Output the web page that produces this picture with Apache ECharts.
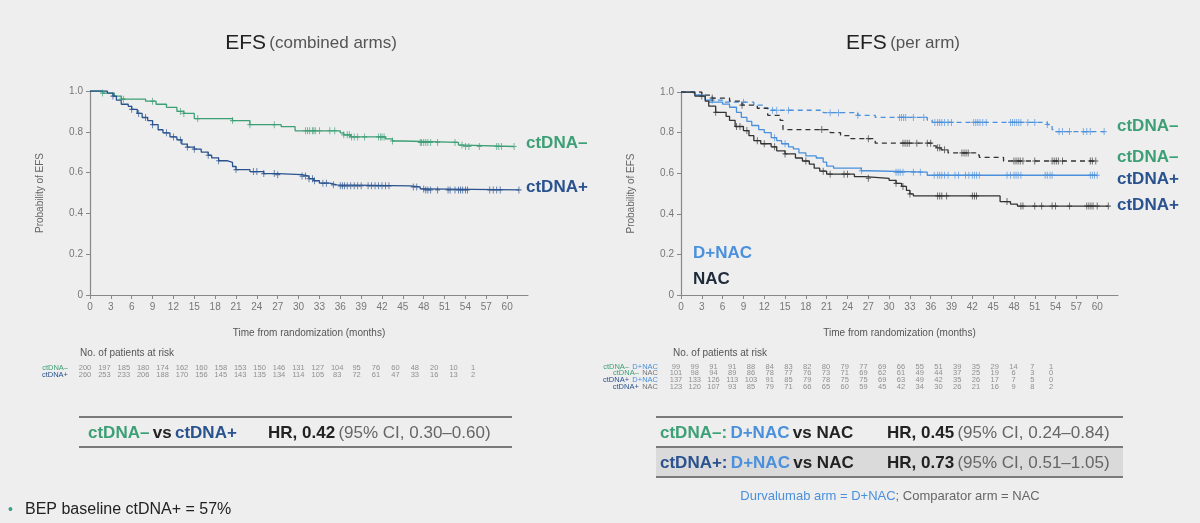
<!DOCTYPE html>
<html>
<head>
<meta charset="utf-8">
<title>EFS by ctDNA</title>
<script src="https://cdn.jsdelivr.net/npm/echarts@6/dist/echarts.min.js"></script>
<style>
html, body { margin: 0; padding: 0; background: #eeeeee; }
#main { width: 1200px; height: 523px; }
</style>
</head>
<body>
<div id="main"></div>
<script>
/**************** 数据 ****************/
var monthTicks = [0, 3, 6, 9, 12, 15, 18, 21, 24, 27, 30, 33, 36, 39, 42, 45, 48, 51, 54, 57, 60];
var probTicks = [0, 0.2, 0.4, 0.6, 0.8, 1.0];
var riskTimes = [0, 3, 6, 9, 12, 15, 18, 21, 24, 27, 30, 33, 36, 39, 42, 45, 48, 51, 54, 57, 60];

// left: combined arms
var negSteps = [[0, 1], [1.8, 0.99], [3.5, 0.975], [4.5, 0.96], [8, 0.95], [9.5, 0.935], [11, 0.92], [12.5, 0.9],
	[13.5, 0.89], [15, 0.865], [20.5, 0.855], [23, 0.835], [27.5, 0.825], [29.5, 0.805], [36, 0.795], [36.5, 0.785],
	[37.5, 0.775], [42.5, 0.765], [43.5, 0.755], [45, 0.748], [53, 0.735], [53.8, 0.728]];
var negEnd = 61;
var negCensor = [1.8, 4.5, 4.8, 9, 13, 13.5, 15.5, 20.5, 23, 26.5, 31, 31.3, 31.6, 32, 32.2, 32.4, 33, 34.5, 35.2,
	36.5, 37, 37.3, 37.6, 38, 38.5, 39.5, 41.5, 41.8, 42, 42.3, 43.5, 47.5, 47.7, 48, 48.3, 48.6, 49, 50, 52.5,
	53.5, 54, 54.5, 56, 58.5, 58.8, 59.2, 61];

var posSteps = [[0, 1], [2.5, 0.99], [3.3, 0.975], [3.8, 0.955], [4.5, 0.935], [5.5, 0.925], [6, 0.91], [6.8, 0.89],
	[7.5, 0.87], [8.3, 0.855], [9, 0.835], [9.8, 0.81], [10.5, 0.795], [11.5, 0.775], [12.5, 0.76], [13.2, 0.74],
	[14, 0.725], [15, 0.715], [16, 0.7], [17, 0.685], [17.5, 0.672], [18.5, 0.658], [19.8, 0.65], [20.5, 0.63],
	[21, 0.615], [23, 0.605], [25, 0.595], [27, 0.59], [30.5, 0.583], [31.5, 0.57], [32.2, 0.56], [33, 0.548],
	[34.5, 0.54], [35.5, 0.535], [46, 0.53], [47.5, 0.52], [48.3, 0.515]];
var posEnd = 61.7;
var posCensor = [3.3, 6, 7, 8, 9, 11, 12, 13, 14, 15, 17, 18.5, 21, 23.5, 24, 25, 26.5, 27, 30.5, 31, 31.5, 32, 32.3,
	33.5, 34, 35, 36, 36.3, 36.6, 37, 37.5, 38, 38.5, 39, 40, 40.5, 41, 41.5, 42, 42.5, 43, 46.5, 47, 48, 48.3,
	48.6, 49, 50, 51.5, 51.8, 52.5, 53, 53.3, 53.6, 54, 54.3, 57.5, 58, 58.5, 59, 61.7];

// right: per arm
var negDSteps = [[0, 1], [1.8, 0.985], [3.5, 0.96], [6, 0.95], [10.5, 0.935], [12, 0.92], [13, 0.91], [20.5, 0.898],
	[25.5, 0.885], [28, 0.875], [35.5, 0.862], [36.2, 0.85], [52.8, 0.84], [53.5, 0.815], [54, 0.805]];
var negDEnd = 61;
var negDCensor = [4.5, 9, 13.2, 13.8, 15.5, 21.5, 22.7, 25.5, 31.5, 31.8, 32.1, 32.4, 33.5, 35, 36.6, 37, 37.3,
	37.6, 38, 38.5, 39, 42.2, 42.5, 42.8, 43.1, 43.5, 44, 47.5, 47.8, 48.1, 48.4, 48.7, 49, 50, 51, 52.8, 54.5,
	55, 56, 58, 58.5, 59, 61];

var negNSteps = [[0, 1], [3, 0.985], [4.5, 0.97], [7, 0.955], [8.8, 0.935], [11, 0.92], [12.5, 0.885], [14.3, 0.86],
	[14.7, 0.815], [21.5, 0.8], [23, 0.785], [24.5, 0.77], [28, 0.748], [36.3, 0.735], [36.8, 0.725], [37.5, 0.715],
	[38.5, 0.7], [42.5, 0.69], [43, 0.678], [46.5, 0.66]];
var negNEnd = 59.8;
var negNCensor = [4.5, 8.8, 20.3, 27, 32, 32.3, 32.6, 32.9, 34, 35.5, 36, 37, 37.3, 38, 40.5, 40.8, 41.1, 41.4, 48,
	48.3, 48.6, 48.9, 49.3, 51, 53.5, 53.8, 54.1, 54.4, 55, 59, 59.3, 59.8];

var posDSteps = [[0, 1], [2, 0.985], [3.5, 0.96], [4, 0.95], [6, 0.94], [7, 0.925], [8, 0.9], [8.7, 0.875],
	[9.5, 0.855], [10.2, 0.835], [11.2, 0.815], [12, 0.8], [13, 0.775], [13.8, 0.76], [14.5, 0.745], [15.5, 0.73],
	[16.2, 0.72], [17, 0.7], [18, 0.685], [19.5, 0.675], [20.5, 0.655], [21, 0.635], [22, 0.625], [26, 0.612],
	[27, 0.605], [35.5, 0.59]];
var posDEnd = 60;
var posDCensor = [13.5, 15, 26, 31, 31.3, 31.6, 32, 33.5, 34.5, 36.5, 37, 37.3, 37.6, 38, 38.5, 39.5, 40, 41, 41.5,
	42, 42.3, 42.6, 43, 47, 47.5, 48, 48.3, 48.6, 49, 52.5, 52.8, 53.2, 53.5, 59, 59.3, 59.6, 60];

var posNSteps = [[0, 1], [2, 0.98], [3.5, 0.955], [4, 0.93], [5, 0.9], [6.5, 0.88], [7, 0.86], [7.8, 0.83], [9, 0.81],
	[9.8, 0.785], [10.5, 0.76], [11.5, 0.745], [13, 0.73], [13.8, 0.71], [15, 0.695], [16.5, 0.675], [17.5, 0.66],
	[18.5, 0.645], [19.2, 0.625], [20, 0.61], [21, 0.595], [25, 0.583], [26.5, 0.575], [30, 0.565], [31, 0.55],
	[31.8, 0.535], [32.5, 0.515], [33, 0.498], [33.5, 0.488], [46, 0.46], [47.5, 0.448], [48.5, 0.438]];
var posNEnd = 61.6;
var posNCensor = [3, 5, 8, 8.5, 9.5, 11, 12, 13.5, 15, 18, 20.5, 21.5, 23.5, 24, 27, 31, 32, 33, 37, 37.3, 37.6,
	38.3, 42, 42.3, 42.6, 47, 49, 49.3, 51, 52, 53.5, 54, 56, 58.5, 58.8, 59.1, 59.4, 60, 61.6];

// 风险人数表
var riskLeftRows = ['ctDNA–', 'ctDNA+'];
var riskLeftNeg = [200, 197, 185, 180, 174, 162, 160, 158, 153, 150, 146, 131, 127, 104, 95, 76, 60, 48, 20, 10, 1];
var riskLeftPos = [260, 253, 233, 206, 188, 170, 156, 145, 143, 135, 134, 114, 105, 83, 72, 61, 47, 33, 16, 13, 2];

var riskRightRows = ['ctDNA– D+NAC', 'ctDNA– NAC', 'ctDNA+ D+NAC', 'ctDNA+ NAC'];
var riskNegD = [99, 99, 91, 91, 88, 84, 83, 82, 80, 79, 77, 69, 66, 55, 51, 39, 35, 29, 14, 7, 1];
var riskNegN = [101, 98, 94, 89, 86, 78, 77, 76, 73, 71, 69, 62, 61, 49, 44, 37, 25, 19, 6, 3, 0];
var riskPosD = [137, 133, 126, 113, 103, 91, 85, 79, 78, 75, 75, 69, 63, 49, 42, 35, 26, 17, 7, 5, 0];
var riskPosN = [123, 120, 107, 93, 85, 79, 71, 66, 65, 60, 59, 45, 42, 34, 30, 26, 21, 16, 9, 8, 2];

/**************** 样式 ****************/
var FONT = '"Liberation Sans", Arial, sans-serif';
var GREEN = '#3d9f76';
var DBLUE = '#2a528e';
var LBLUE = '#4a90dc';
var DARK = '#333333';
var CROSS = 'path://M4,0L4,8M0,4L8,4';

function survAt(steps, t) {
	var s = 1;
	for (var i = 0; i < steps.length; i++) {
		if (steps[i][0] <= t) s = steps[i][1];
	}
	return s;
}

function kmLine(steps, end, color, dashed, xi) {
	return {
		type: 'line', step: 'end', xAxisIndex: xi, yAxisIndex: xi,
		showSymbol: false, silent: true,
		data: steps.concat([[end, steps[steps.length - 1][1]]]),
		lineStyle: { color: color, width: 1.3, type: dashed ? [5, 4] : 'solid' },
		z: 3
	};
}

function kmCensor(steps, times, color, xi) {
	return {
		type: 'scatter', xAxisIndex: xi, yAxisIndex: xi, silent: true,
		symbol: CROSS, symbolSize: [5, 7],
		itemStyle: { color: 'none', borderColor: color, borderWidth: 1 },
		data: times.map(function (t) { return [t, survAt(steps, t)]; }),
		z: 4
	};
}

function riskSeries(values, row, xi) {
	return {
		type: 'scatter', xAxisIndex: xi, yAxisIndex: xi, silent: true,
		symbolSize: 1, itemStyle: { color: 'transparent' },
		label: {
			show: true, position: 'inside', fontSize: 7.5, fontFamily: FONT, color: '#777',
			formatter: function (p) { return p.value[2]; }
		},
		data: values.map(function (v, i) { return [riskTimes[i], row, v]; })
	};
}

function kmXAxis(gi) {
	return {
		type: 'value', gridIndex: gi, min: 0, max: 63,
		name: 'Time from randomization (months)', nameLocation: 'middle', nameGap: 33,
		nameTextStyle: { fontSize: 10, color: '#555', fontFamily: FONT },
		axisLine: { lineStyle: { color: '#888', width: 1.2 } },
		axisTick: { customValues: monthTicks, length: 4, lineStyle: { color: '#888' } },
		axisLabel: { customValues: monthTicks, fontSize: 10, color: '#777', fontFamily: FONT, margin: 7 },
		splitLine: { show: false }
	};
}

function kmYAxis(gi) {
	return {
		type: 'value', gridIndex: gi, min: 0, max: 1, interval: 0.2,
		name: 'Probability of EFS', nameLocation: 'middle', nameGap: 45,
		nameTextStyle: { fontSize: 10, color: '#666', fontFamily: FONT },
		axisLine: { show: true, lineStyle: { color: '#888', width: 1.2 } },
		axisTick: { show: true, length: 4, lineStyle: { color: '#888' } },
		axisLabel: {
			fontSize: 10, color: '#777', fontFamily: FONT, margin: 7,
			formatter: function (v) { return v === 0 ? '0' : v.toFixed(1); }
		},
		splitLine: { show: false }
	};
}

function riskXAxis(gi) {
	return { type: 'value', gridIndex: gi, min: 0, max: 60, show: false };
}

var rowRich = {
	g: { color: GREEN, fontSize: 7.5, fontFamily: FONT },
	b: { color: DBLUE, fontSize: 7.5, fontFamily: FONT },
	l: { color: LBLUE, fontSize: 7.5, fontFamily: FONT },
	k: { color: '#777', fontSize: 7.5, fontFamily: FONT }
};

function rowLabel(name) {
	var parts = name.split(' ');
	var first = parts[0].indexOf('–') >= 0 ? '{g|' + parts[0] + '}' : '{b|' + parts[0] + '}';
	if (parts.length === 1) return first;
	return first + ' ' + (parts[1] === 'NAC' ? '{k|NAC}' : '{l|' + parts[1] + '}');
}

function riskYAxis(gi, rows, margin) {
	return {
		type: 'category', gridIndex: gi, data: rows, inverse: true,
		axisLine: { show: false }, axisTick: { show: false }, splitLine: { show: false },
		axisLabel: { interval: 0, margin: margin, formatter: rowLabel, rich: rowRich }
	};
}

/**************** 文字 ****************/
var txtRich = {
	g: { fill: GREEN, fontSize: 17, fontWeight: 'bold', fontFamily: FONT },
	b: { fill: DBLUE, fontSize: 17, fontWeight: 'bold', fontFamily: FONT },
	l: { fill: LBLUE, fontSize: 17, fontWeight: 'bold', fontFamily: FONT },
	k: { fill: '#222', fontSize: 17, fontWeight: 'bold', fontFamily: FONT },
	n: { fill: '#666', fontSize: 17, fontFamily: FONT }
};
var titleRich = {
	a: { fontSize: 21, fill: '#222', fontFamily: FONT },
	b: { fontSize: 17, fill: '#555', fontFamily: FONT }
};

function txt(x, y, text, style) {
	var s = { x: x, y: y, text: text, fontFamily: FONT, verticalAlign: 'middle' };
	for (var k in style) s[k] = style[k];
	return { type: 'text', silent: true, style: s };
}

function hline(x1, x2, y, color, w) {
	return { type: 'line', silent: true, shape: { x1: x1, y1: y, x2: x2, y2: y }, style: { stroke: color, lineWidth: w } };
}

var graphics = [
	// titles
	txt(311, 43, '{a|EFS} {b|(combined arms)}', { align: 'center', rich: titleRich }),
	txt(903, 43, '{a|EFS} {b|(per arm)}', { align: 'center', rich: titleRich }),
	// curve end labels
	txt(526, 143, 'ctDNA–', { fill: GREEN, fontSize: 17, fontWeight: 'bold' }),
	txt(526, 187, 'ctDNA+', { fill: DBLUE, fontSize: 17, fontWeight: 'bold' }),
	txt(1117, 126, 'ctDNA–', { fill: GREEN, fontSize: 17, fontWeight: 'bold' }),
	txt(1117, 157, 'ctDNA–', { fill: GREEN, fontSize: 17, fontWeight: 'bold' }),
	txt(1117, 179, 'ctDNA+', { fill: DBLUE, fontSize: 17, fontWeight: 'bold' }),
	txt(1117, 205, 'ctDNA+', { fill: DBLUE, fontSize: 17, fontWeight: 'bold' }),
	// arm legend
	txt(693, 253, 'D+NAC', { fill: LBLUE, fontSize: 17, fontWeight: 'bold' }),
	txt(693, 279, 'NAC', { fill: '#1f2a3a', fontSize: 17, fontWeight: 'bold' }),
	// risk table heads
	txt(80, 353, 'No. of patients at risk', { fill: '#555', fontSize: 10 }),
	txt(673, 353, 'No. of patients at risk', { fill: '#555', fontSize: 10 }),
	// HR box left
	hline(79, 512, 417, '#7a7a7a', 2),
	hline(79, 512, 447, '#7a7a7a', 2),
	txt(88, 433, '{g|ctDNA–} {k|vs} {b|ctDNA+}', { rich: txtRich }),
	txt(268, 433, '{k|HR, 0.42} {n|(95% CI, 0.30–0.60)}', { rich: txtRich }),
	// HR box right
	{ type: 'rect', silent: true, shape: { x: 656, y: 447, width: 467, height: 30 }, style: { fill: '#dadada' } },
	hline(656, 1123, 417, '#7a7a7a', 2),
	hline(656, 1123, 447, '#7a7a7a', 2),
	hline(656, 1123, 477, '#7a7a7a', 2),
	txt(660, 433, '{g|ctDNA–:} {l|D+NAC} {k|vs NAC}', { rich: txtRich }),
	txt(887, 433, '{k|HR, 0.45} {n|(95% CI, 0.24–0.84)}', { rich: txtRich }),
	txt(660, 463, '{b|ctDNA+:} {l|D+NAC} {k|vs NAC}', { rich: txtRich }),
	txt(887, 463, '{k|HR, 0.73} {n|(95% CI, 0.51–1.05)}', { rich: txtRich }),
	// footnotes
	txt(890, 496, '{l|Durvalumab arm = D+NAC}{n|; Comparator arm = NAC}', { align: 'center',
		rich: { l: { fill: LBLUE, fontSize: 13, fontFamily: FONT }, n: { fill: '#666', fontSize: 13, fontFamily: FONT } } }),
	txt(8, 510, '•', { fill: '#3d9f8a', fontSize: 14 }),
	txt(25, 510, 'BEP baseline ctDNA+ = 57%', { fill: '#222', fontSize: 16 })
];

/**************** 图表 ****************/
var myChart = echarts.init(document.getElementById('main'), null, { renderer: 'canvas' });
var option = {
	backgroundColor: '#eeeeee',
	animation: false,
	grid: [
		{ left: 90, top: 91, width: 438, height: 204, outerBoundsMode: 'none' },
		{ left: 681, top: 92, width: 437, height: 203, outerBoundsMode: 'none' },
		{ left: 85, top: 364, width: 388, height: 14, outerBoundsMode: 'none' },
		{ left: 676, top: 363.4, width: 375, height: 26.4, outerBoundsMode: 'none' }
	],
	xAxis: [kmXAxis(0), kmXAxis(1), riskXAxis(2), riskXAxis(3)],
	yAxis: [kmYAxis(0), kmYAxis(1), riskYAxis(2, riskLeftRows, 17), riskYAxis(3, riskRightRows, 18)],
	series: [
		kmLine(negSteps, negEnd, GREEN, false, 0),
		kmCensor(negSteps, negCensor, GREEN, 0),
		kmLine(posSteps, posEnd, DBLUE, false, 0),
		kmCensor(posSteps, posCensor, DBLUE, 0),

		kmLine(negDSteps, negDEnd, LBLUE, true, 1),
		kmCensor(negDSteps, negDCensor, LBLUE, 1),
		kmLine(negNSteps, negNEnd, DARK, true, 1),
		kmCensor(negNSteps, negNCensor, DARK, 1),
		kmLine(posDSteps, posDEnd, LBLUE, false, 1),
		kmCensor(posDSteps, posDCensor, LBLUE, 1),
		kmLine(posNSteps, posNEnd, DARK, false, 1),
		kmCensor(posNSteps, posNCensor, DARK, 1),

		riskSeries(riskLeftNeg, 0, 2),
		riskSeries(riskLeftPos, 1, 2),
		riskSeries(riskNegD, 0, 3),
		riskSeries(riskNegN, 1, 3),
		riskSeries(riskPosD, 2, 3),
		riskSeries(riskPosN, 3, 3)
	],
	graphic: graphics
};
myChart.setOption(option);
</script>
</body>
</html>
